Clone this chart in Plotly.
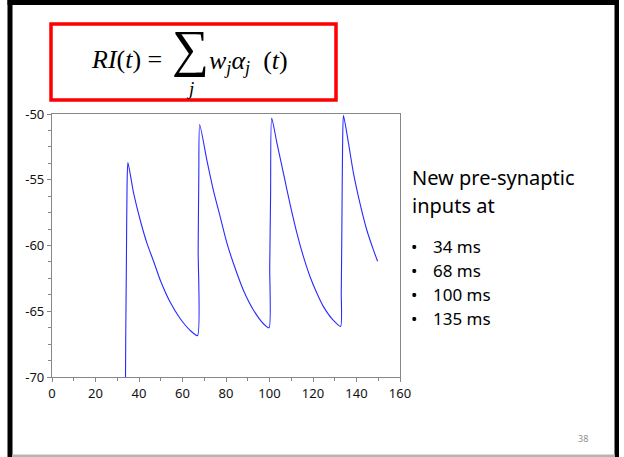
import plotly.graph_objects as go

# ---- data ----
t_ms = [33.8, 33.9, 34.2, 34.5, 34.9,
        37.5, 40.6, 43.6, 46.7, 49.7, 54.3, 58.9, 63.5, 66.9,
        67.2, 67.5, 67.9,
        71.2, 74.2, 77.3, 80.4, 83.4, 88.0, 92.6, 97.2, 99.8,
        100.1, 100.5, 101.0,
        103.4, 106.4, 109.5, 112.5, 115.6, 118.7, 121.7, 124.8, 129.4, 132.7,
        133.0, 133.3, 133.6, 134.0,
        136.3, 138.6, 141.6, 144.7, 147.7, 149.7]
v_mV = [-70.0, -67.0, -61.4, -55.6, -53.7,
        -56.0, -58.1, -59.8, -61.2, -62.6, -64.3, -65.55, -66.45, -66.85,
        -60.3, -54.6, -50.8,
        -53.5, -55.8, -57.8, -59.8, -61.35, -63.4, -64.9, -65.95, -66.25,
        -61.7, -56.2, -50.3,
        -52.2, -54.5, -56.9, -59.0, -60.85, -62.4, -63.6, -64.65, -65.7, -66.15,
        -63.6, -58.1, -52.5, -50.1,
        -52.2, -54.5, -56.8, -58.8, -60.3, -61.2]

x_ticks = [0, 20, 40, 60, 80, 100, 120, 140, 160]
y_ticks = [-70, -65, -60, -55, -50]
y_tick_labels = ["-70", "-65", "-60", "-55", "-50"]
heading_lines = ["New pre-synaptic", "inputs at"]
input_times = ["34 ms", "68 ms", "100 ms", "135 ms"]

W, H = 624, 457
L, R, T, B = 52, 400, 114, 377  # plot area in pixels


def px(xp):
    return (xp - L) / (R - L)


def py(yp):
    return (B - yp) / (B - T)


fig = go.Figure()
fig.add_trace(go.Scatter(x=t_ms, y=v_mV, mode="lines",
                         line=dict(color="#2a2aff", width=1.1, shape="spline", smoothing=0.6),
                         hoverinfo="skip", showlegend=False))

axis_gray = "#878787"
fig.update_xaxes(range=[0, 160], tickvals=x_ticks, ticks="outside", ticklen=4,
                 tickcolor=axis_gray, showline=True, linecolor=axis_gray,
                 linewidth=1.2, mirror=True, showgrid=False, zeroline=False,
                 minor=dict(dtick=10, tick0=0, ticks="outside", ticklen=3,
                            tickcolor=axis_gray, showgrid=False),
                 tickfont=dict(family="Noto Sans", size=13, color="#111"))
fig.update_yaxes(range=[-70, -50], tickvals=y_ticks, ticktext=y_tick_labels,
                 ticks="outside", ticklen=4,
                 tickcolor=axis_gray, showline=True, linecolor=axis_gray,
                 linewidth=1.2, mirror=True, showgrid=False, zeroline=False,
                 minor=dict(dtick=1.25, tick0=-70, ticks="outside", ticklen=3,
                            tickcolor=axis_gray, showgrid=False),
                 tickfont=dict(family="Noto Sans", size=13, color="#111"))

shapes = []
# slide border
shapes.append(dict(type="rect", xref="paper", yref="paper", x0=px(7.5), x1=px(619),
                   y0=py(-3), y1=py(5), fillcolor="black", line=dict(width=0), layer="above"))
shapes.append(dict(type="rect", xref="paper", yref="paper", x0=px(7.5), x1=px(12.5),
                   y0=py(-3), y1=py(460), fillcolor="black", line=dict(width=0), layer="above"))
shapes.append(dict(type="rect", xref="paper", yref="paper", x0=px(614.5), x1=px(619),
                   y0=py(-3), y1=py(460), fillcolor="black", line=dict(width=0), layer="above"))
shapes.append(dict(type="rect", xref="paper", yref="paper", x0=px(12), x1=px(615),
                   y0=py(454.5), y1=py(460), fillcolor="#b5b5b5", line=dict(width=0), layer="above"))
# red formula box
shapes.append(dict(type="rect", xref="paper", yref="paper", x0=px(51), x1=px(336),
                   y0=py(24), y1=py(100), line=dict(color="#ff0000", width=3.5),
                   fillcolor="rgba(0,0,0,0)", layer="above"))

ann = []
serif = "Liberation Serif"
ann.append(dict(text="<i>RI</i>(<i>t</i>) =", x=px(89), y=py(59), xanchor="left",
                yanchor="middle", font=dict(family=serif, size=26, color="black")))
ann.append(dict(text="\u2211", x=px(190), y=py(49), xanchor="center",
                yanchor="middle", font=dict(family=serif, size=52, color="black")))
ann.append(dict(text="<i>j</i>", x=px(190), y=py(88), xanchor="center",
                yanchor="middle", font=dict(family=serif, size=19, color="black")))
ann.append(dict(text="<i>w<sub>j</sub>\u03b1<sub>j</sub></i>  (<i>t</i>)", x=px(207), y=py(62),
                xanchor="left", yanchor="middle",
                font=dict(family=serif, size=26, color="black")))

for i, s in enumerate(heading_lines):
    ann.append(dict(text=s, x=px(410), y=py(177 + 28 * i), xanchor="left",
                    yanchor="middle", font=dict(family="Noto Sans", size=20, color="black")))
for i, s in enumerate(input_times):
    yy = py(246 + 24.3 * i)
    ann.append(dict(text="\u2022", x=px(414), y=yy, xanchor="center", yanchor="middle",
                    font=dict(family="Noto Sans", size=17, color="black")))
    ann.append(dict(text=s, x=px(431), y=yy, xanchor="left", yanchor="middle",
                    font=dict(family="Noto Sans", size=17, color="black")))
ann.append(dict(text="38", x=px(583), y=py(438), xanchor="center", yanchor="middle",
                font=dict(family="Noto Sans", size=9, color="#8f8f8f")))

for a in ann:
    a.update(xref="paper", yref="paper", showarrow=False)

fig.update_layout(width=W, height=H, margin=dict(l=L, r=W - R, t=T, b=H - B),
                  paper_bgcolor="white", plot_bgcolor="white",
                  shapes=shapes, annotations=ann, showlegend=False)

fig.write_html("out.html", config={"displayModeBar": False},
               post_script="document.body.style.margin='0';document.body.style.overflow='hidden';")
